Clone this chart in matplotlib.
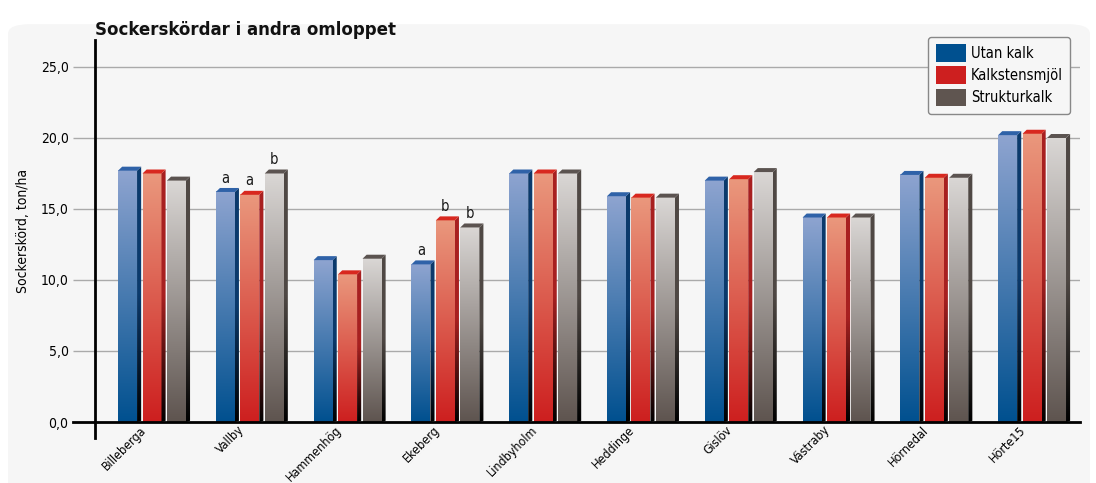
import numpy as np
import matplotlib
matplotlib.use("Agg")
from matplotlib import pyplot as plt
from matplotlib.colors import LinearSegmentedColormap
from matplotlib.patches import Polygon, FancyBboxPatch, Rectangle

# data
platser = ['Billeberga', 'Vallby', 'Hammenhög', 'Ekeberg', 'Lindbyholm',
           'Heddinge', 'Gislöv', 'Västraby', 'Hörnedal', 'Hörte15']
utan_kalk = [17.7, 16.2, 11.4, 11.1, 17.5, 15.9, 17.0, 14.4, 17.4, 20.2]
kalkstensmjol = [17.5, 16.0, 10.4, 14.2, 17.5, 15.8, 17.1, 14.4, 17.2, 20.3]
strukturkalk = [17.0, 17.5, 11.5, 13.7, 17.5, 15.8, 17.6, 14.4, 17.2, 20.0]
serier = ['Utan kalk', 'Kalkstensmjöl', 'Strukturkalk']
# significance letters (plats index, serie index, letter)
bokstaver = [(1, 0, 'a'), (1, 1, 'a'), (1, 2, 'b'),
             (3, 0, 'a'), (3, 1, 'b'), (3, 2, 'b')]

narrow = dict(family='DejaVu Sans', stretch='condensed')

# colours: front top, front bottom, top face, side face, legend
stil = [
    ('#8ea4d0', '#00508f', '#2f62a8', '#0b3a6c', '#00508f'),
    ('#ea987d', '#cd1f1f', '#d8281f', '#a82020', '#cd1f1f'),
    ('#dad7d5', '#5e544f', '#5b5350', '#4f4844', '#5f5550'),
]

fig = plt.figure(figsize=(10.96, 4.83), dpi=100)
fig.patch.set_facecolor('white')
bg = FancyBboxPatch((8 / 1096, -0.05), 1082 / 1096, 1.0, transform=fig.transFigure,
                    boxstyle='round,pad=0,rounding_size=0.02', facecolor='#f6f6f6',
                    edgecolor='none', zorder=-10)
fig.patches.append(bg)

ax = fig.add_axes([95 / 1096, 1 - 422 / 483, 985 / 1096, 382 / 483])
ax.set_facecolor('none')

bw = 0.194
off = 0.25
dx = 0.042
dy = 0.28
x = np.arange(len(platser))
grad = np.linspace(0, 1, 256).reshape(-1, 1)

for s, vals in enumerate([utan_kalk, kalkstensmjol, strukturkalk]):
    ftop, fbot, tcol, scol, _ = stil[s]
    cm_front = LinearSegmentedColormap.from_list('f%d' % s, [fbot, ftop])
    cm_side = LinearSegmentedColormap.from_list('s%d' % s, ['#000000', scol, scol])
    for i, h in enumerate(vals):
        x0 = x[i] + (s - 1) * off - bw / 2
        x1 = x0 + bw
        ax.imshow(grad, extent=[x0, x1, 0, h], origin='lower', aspect='auto',
                  cmap=cm_front, zorder=3, interpolation='bilinear')
        side = Polygon([(x1, 0), (x1 + dx, dy * 0.3), (x1 + dx, h + dy), (x1, h)],
                       closed=True, facecolor='none', edgecolor='none')
        ax.add_patch(side)
        im = ax.imshow(grad, extent=[x1, x1 + dx, 0, h + dy], origin='lower',
                       aspect='auto', cmap=cm_side, zorder=3, interpolation='bilinear')
        im.set_clip_path(side)
        ax.add_patch(Polygon([(x0, h), (x0 + dx, h + dy), (x1 + dx, h + dy), (x1, h)],
                             closed=True, facecolor=tcol, edgecolor='none', zorder=3))

for i, s, b in bokstaver:
    h = [utan_kalk, kalkstensmjol, strukturkalk][s][i]
    ax.text(x[i] + (s - 1) * off, h + 0.45, b, ha='center', va='bottom',
            fontsize=10.5, color='#1a1a1a', **narrow)

ax.set_xlim(-0.583, 9.49)
ax.set_ylim(0, 26.9)
ax.set_yticks([0, 5, 10, 15, 20, 25])
ax.set_yticklabels(['0,0', '5,0', '10,0', '15,0', '20,0', '25,0'], fontsize=10, **narrow)
ax.yaxis.grid(True, color='#aaaaaa', lw=1)
ax.set_axisbelow(True)
ax.tick_params(axis='y', length=16, color='#aaaaaa', width=1, pad=3)
# label anchors sit a little left of the group centre, as in the original
ax.set_xticks(x - 0.13)
ax.set_xticklabels(platser, rotation=45, ha='right', va='top', rotation_mode='anchor',
                   fontsize=9, **narrow)
ax.tick_params(axis='x', length=0, pad=1)
for sp in ax.spines.values():
    sp.set_visible(False)
ax.plot([-22 / 985, 1], [0, 0], transform=ax.transAxes, color='black', lw=2,
        clip_on=False, zorder=5)
ax.plot([0, 0], [-16 / 382, 1], transform=ax.transAxes, color='black', lw=2,
        clip_on=False, zorder=5)

ax.set_ylabel('Sockerskörd, ton/ha', fontsize=10, labelpad=8, **narrow)
fig.text(95 / 1096, 1 - 30 / 483, 'Sockerskördar i andra omloppet', ha='left',
         va='center', fontsize=12, fontweight='bold', color='#111111')

handles = [Rectangle((0, 0), 1, 1, facecolor=st[4]) for st in stil]
leg = ax.legend(handles, serier, loc='upper right',
                bbox_to_anchor=((1070 - 95) / 985, (422 - 37) / 382), borderaxespad=0,
                prop=dict(size=10.5, **narrow), handlelength=2.1, handleheight=1.5,
                handletextpad=0.3, labelspacing=0.3, borderpad=0.5, fancybox=True,
                framealpha=1, facecolor='#f6f6f6', edgecolor='#888888')
leg.set_zorder(10)

fig.savefig('out.png', dpi=100)
